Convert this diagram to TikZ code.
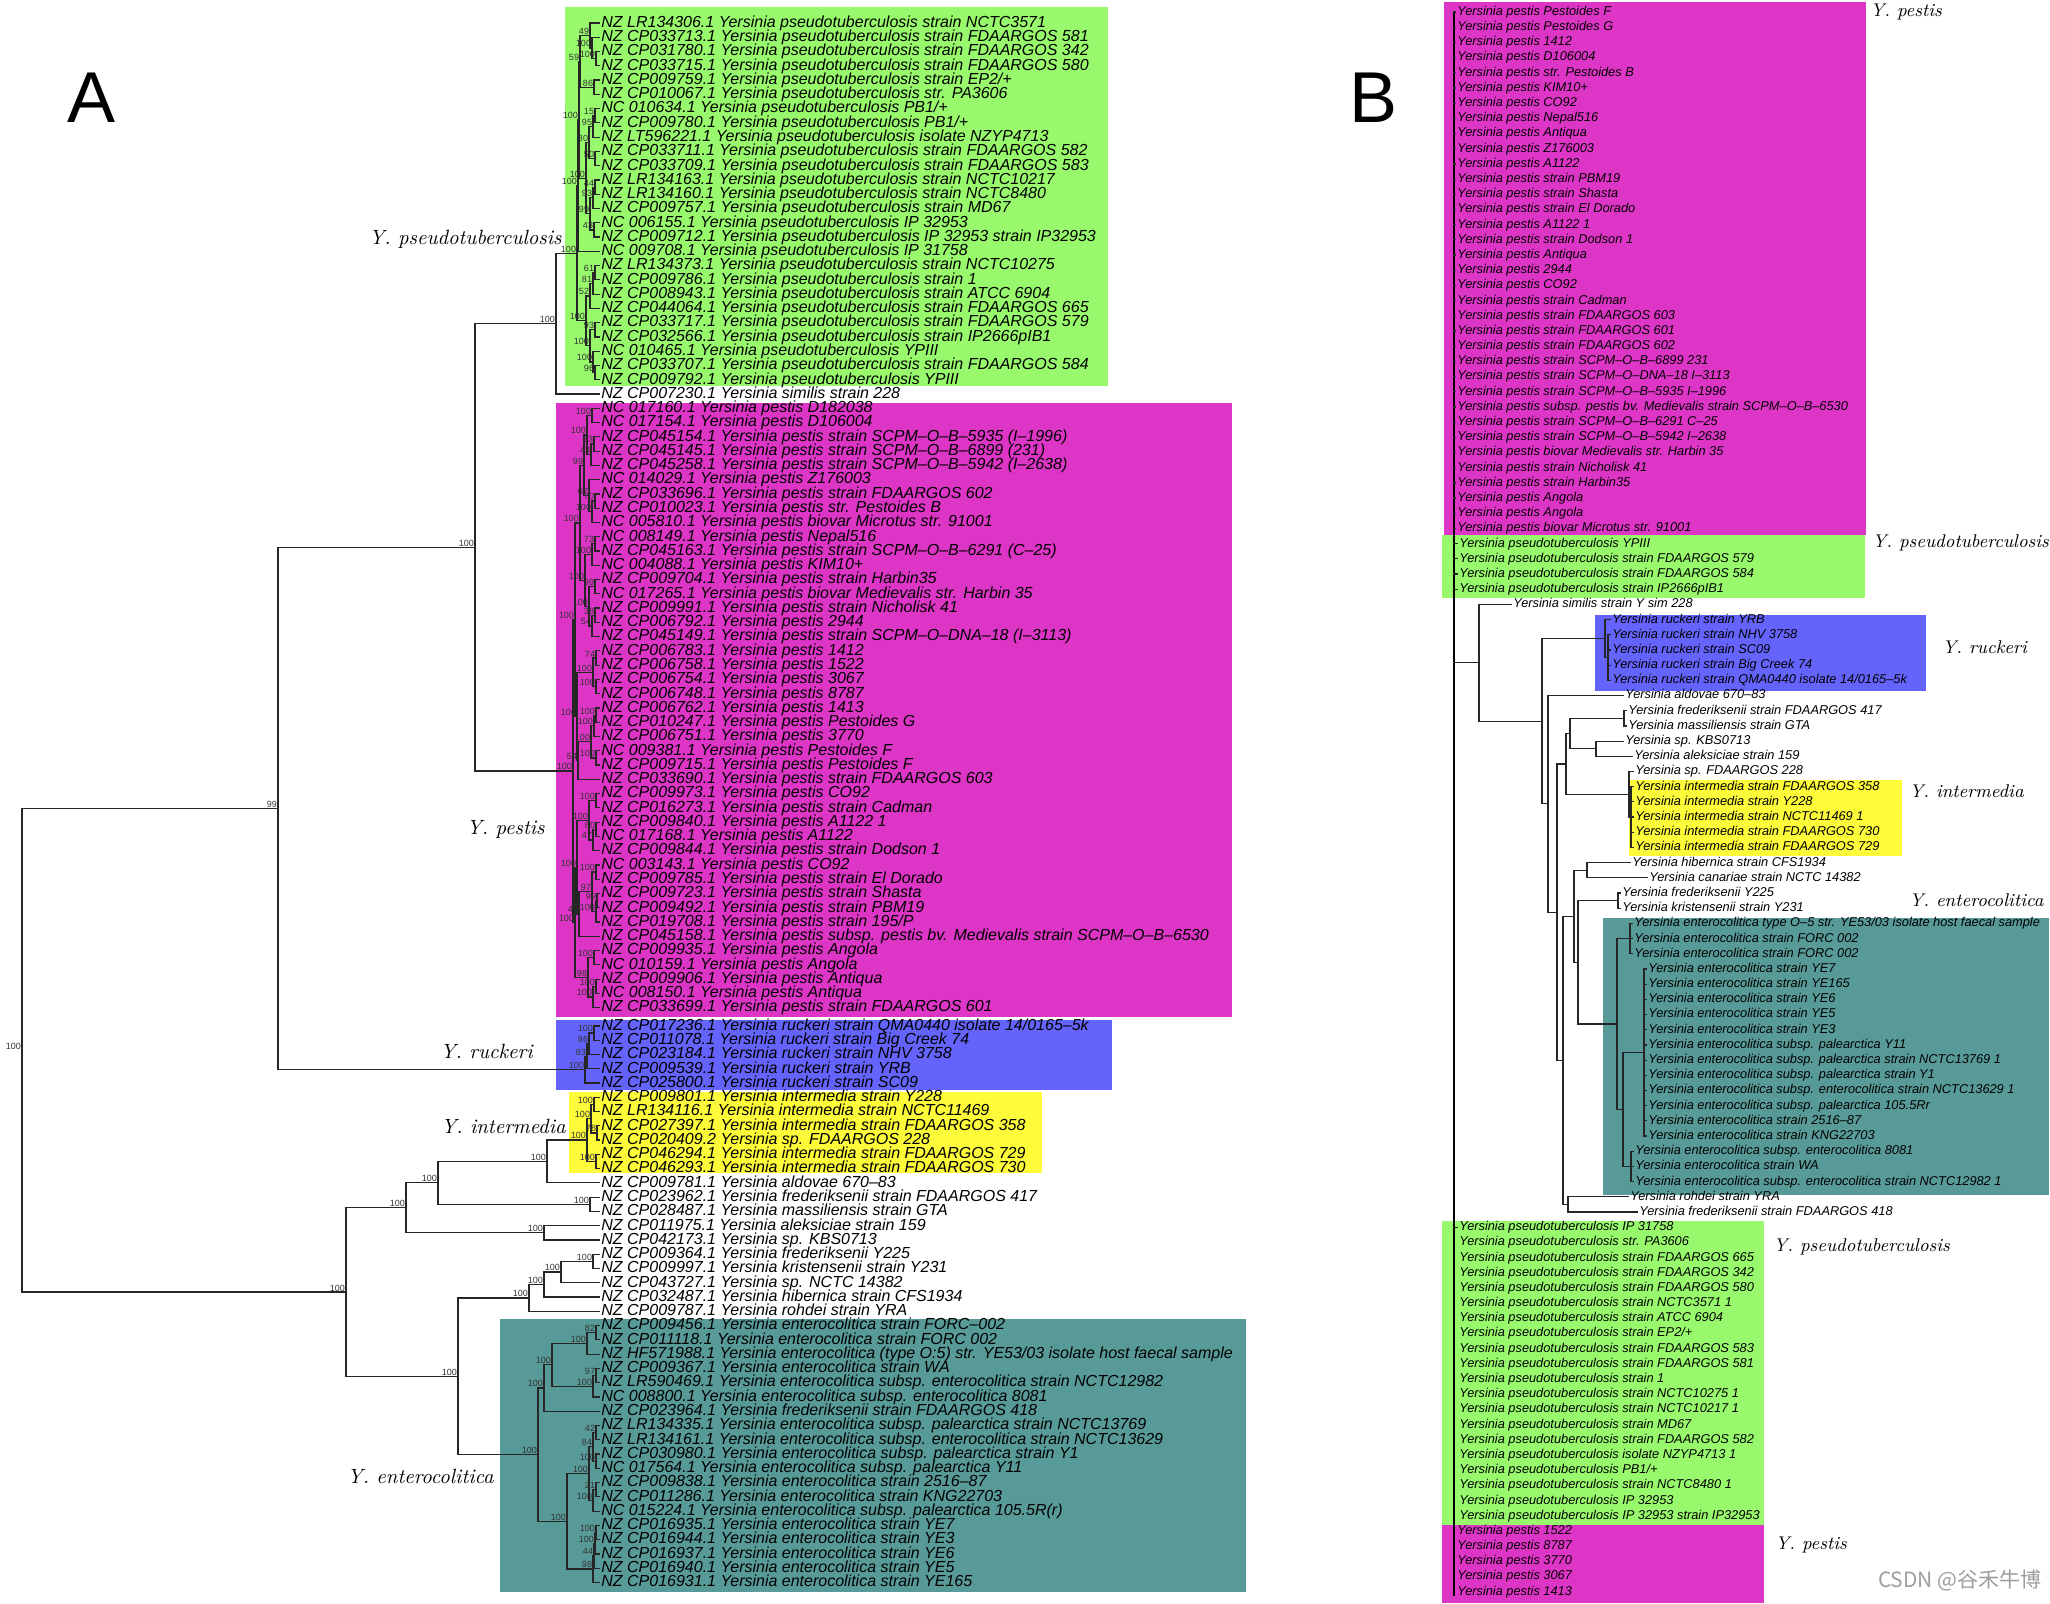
\documentclass[tikz,border=0pt]{standalone}
\usepackage{fontspec}
\newfontfamily\lsans{Liberation Sans}
\newfontfamily\cjk{Noto Sans CJK SC}
\usetikzlibrary{calc}
\definecolor{boxGreen}{HTML}{98F96C}
\definecolor{boxMagenta}{HTML}{DD35C6}
\definecolor{boxBlue}{HTML}{6464FC}
\definecolor{boxYellow}{HTML}{FDFB3A}
\definecolor{boxTeal}{HTML}{579A97}
\definecolor{supGray}{HTML}{333333}

% clade: name, x, upper child, lower child
\newcommand\cl[4]{%
  \coordinate (#1mid) at ($(#3)!0.5!(#4)$);
  \coordinate (#1) at (#2,0 |- #1mid);
  \draw[br] (#2,0 |- #3) -- (#2,0 |- #4);
  \draw[br] (#2,0 |- #3) -- (#3);
  \draw[br] (#2,0 |- #4) -- (#4);
}
\newcommand\clade[5]{\cl{#1}{#2}{#3}{#4}\node[sup] (#1lab) at (#1) {#5};}
\newcommand\kid[2]{\draw[br] (#1 |- #2) -- (#2);}
\newcommand\leafB[3]{\node[leafB] (b#1) at (#2,{12+15.19*(#1-1)}) {#3};}

\begin{document}
\begin{tikzpicture}[x=0.5pt, y=-0.5pt,
    br/.style={line width=0.6pt, black!85, line cap=rect},
    mainline/.style={line width=1.4pt, black},
    sup/.style={anchor=south east, inner sep=0.3pt, text=supGray,
        font=\lsans\fontsize{4.5}{4.5}\selectfont},
    leafA/.style={anchor=west, inner sep=1pt, text height=5.9pt, text depth=1.6pt,
        font=\lsans\itshape\fontsize{8}{8}\selectfont},
    leafB/.style={anchor=west, inner sep=1pt, text height=4.7pt, text depth=1.3pt,
        font=\lsans\itshape\fontsize{6.4}{6.4}\selectfont},
    cladeA/.style={anchor=east, inner sep=0pt, font=\itshape\fontsize{10.3}{10.3}\selectfont},
    cladeB/.style={anchor=west, inner sep=0pt, font=\itshape\fontsize{9.2}{9.2}\selectfont},
    panel/.style={inner sep=0pt, font=\lsans\fontsize{36}{36}\selectfont}
  ]
  \useasboundingbox (0,0) rectangle (2050,1603);

  % coloured boxes, panel A
  \fill[boxGreen] (565,7) rectangle (1108,386);
  \fill[boxMagenta] (556,403) rectangle (1232,1017);
  \fill[boxBlue] (556,1020) rectangle (1112,1090);
  \fill[boxYellow] (569,1092) rectangle (1042,1173);
  \fill[boxTeal] (500,1319) rectangle (1246,1592);
  % coloured boxes, panel B
  \fill[boxMagenta] (1444,2) rectangle (1866,535);
  \fill[boxGreen] (1442,535) rectangle (1865,598);
  \fill[boxBlue] (1595,615) rectangle (1926,691);
  \fill[boxYellow] (1629,780) rectangle (1902,856);
  \fill[boxTeal] (1603,918) rectangle (2049,1195);
  \fill[boxGreen] (1442,1221) rectangle (1764,1525);
  \fill[boxMagenta] (1442,1525) rectangle (1764,1603);

  \node[panel] (labA) at (92,98) {A};
  \node[panel] (labB) at (1373,98) {B};

  % ---------- panel A: leaves ----------
  \foreach \t [count=\i] in {
    NZ LR134306.1 Yersinia pseudotuberculosis strain NCTC3571,
    NZ CP033713.1 Yersinia pseudotuberculosis strain FDAARGOS 581,
    NZ CP031780.1 Yersinia pseudotuberculosis strain FDAARGOS 342,
    NZ CP033715.1 Yersinia pseudotuberculosis strain FDAARGOS 580,
    NZ CP009759.1 Yersinia pseudotuberculosis strain EP2/+,
    NZ CP010067.1 Yersinia pseudotuberculosis str. PA3606,
    NC 010634.1 Yersinia pseudotuberculosis PB1/+,
    NZ CP009780.1 Yersinia pseudotuberculosis PB1/+,
    NZ LT596221.1 Yersinia pseudotuberculosis isolate NZYP4713,
    NZ CP033711.1 Yersinia pseudotuberculosis strain FDAARGOS 582,
    NZ CP033709.1 Yersinia pseudotuberculosis strain FDAARGOS 583,
    NZ LR134163.1 Yersinia pseudotuberculosis strain NCTC10217,
    NZ LR134160.1 Yersinia pseudotuberculosis strain NCTC8480,
    NZ CP009757.1 Yersinia pseudotuberculosis strain MD67,
    NC 006155.1 Yersinia pseudotuberculosis IP 32953,
    NZ CP009712.1 Yersinia pseudotuberculosis IP 32953 strain IP32953,
    NC 009708.1 Yersinia pseudotuberculosis IP 31758,
    NZ LR134373.1 Yersinia pseudotuberculosis strain NCTC10275,
    NZ CP009786.1 Yersinia pseudotuberculosis strain 1,
    NZ CP008943.1 Yersinia pseudotuberculosis strain ATCC 6904,
    NZ CP044064.1 Yersinia pseudotuberculosis strain FDAARGOS 665,
    NZ CP033717.1 Yersinia pseudotuberculosis strain FDAARGOS 579,
    NZ CP032566.1 Yersinia pseudotuberculosis strain IP2666pIB1,
    NC 010465.1 Yersinia pseudotuberculosis YPIII,
    NZ CP033707.1 Yersinia pseudotuberculosis strain FDAARGOS 584,
    NZ CP009792.1 Yersinia pseudotuberculosis YPIII,
    NZ CP007230.1 Yersinia similis strain 228,
    NC 017160.1 Yersinia pestis D182038,
    NC 017154.1 Yersinia pestis D106004,
    NZ CP045154.1 Yersinia pestis strain SCPM–O–B–5935 (I–1996),
    NZ CP045145.1 Yersinia pestis strain SCPM–O–B–6899 (231),
    NZ CP045258.1 Yersinia pestis strain SCPM–O–B–5942 (I–2638),
    NC 014029.1 Yersinia pestis Z176003,
    NZ CP033696.1 Yersinia pestis strain FDAARGOS 602,
    NZ CP010023.1 Yersinia pestis str. Pestoides B,
    NC 005810.1 Yersinia pestis biovar Microtus str. 91001,
    NC 008149.1 Yersinia pestis Nepal516,
    NZ CP045163.1 Yersinia pestis strain SCPM–O–B–6291 (C–25),
    NC 004088.1 Yersinia pestis KIM10+,
    NZ CP009704.1 Yersinia pestis strain Harbin35,
    NC 017265.1 Yersinia pestis biovar Medievalis str. Harbin 35,
    NZ CP009991.1 Yersinia pestis strain Nicholisk 41,
    NZ CP006792.1 Yersinia pestis 2944,
    NZ CP045149.1 Yersinia pestis strain SCPM–O–DNA–18 (I–3113),
    NZ CP006783.1 Yersinia pestis 1412,
    NZ CP006758.1 Yersinia pestis 1522,
    NZ CP006754.1 Yersinia pestis 3067,
    NZ CP006748.1 Yersinia pestis 8787,
    NZ CP006762.1 Yersinia pestis 1413,
    NZ CP010247.1 Yersinia pestis Pestoides G,
    NZ CP006751.1 Yersinia pestis 3770,
    NC 009381.1 Yersinia pestis Pestoides F,
    NZ CP009715.1 Yersinia pestis Pestoides F,
    NZ CP033690.1 Yersinia pestis strain FDAARGOS 603,
    NZ CP009973.1 Yersinia pestis CO92,
    NZ CP016273.1 Yersinia pestis strain Cadman,
    NZ CP009840.1 Yersinia pestis A1122 1,
    NC 017168.1 Yersinia pestis A1122,
    NZ CP009844.1 Yersinia pestis strain Dodson 1,
    NC 003143.1 Yersinia pestis CO92,
    NZ CP009785.1 Yersinia pestis strain El Dorado,
    NZ CP009723.1 Yersinia pestis strain Shasta,
    NZ CP009492.1 Yersinia pestis strain PBM19,
    NZ CP019708.1 Yersinia pestis strain 195/P,
    NZ CP045158.1 Yersinia pestis subsp. pestis bv. Medievalis strain SCPM–O–B–6530,
    NZ CP009935.1 Yersinia pestis Angola,
    NC 010159.1 Yersinia pestis Angola,
    NZ CP009906.1 Yersinia pestis Antiqua,
    NC 008150.1 Yersinia pestis Antiqua,
    NZ CP033699.1 Yersinia pestis strain FDAARGOS 601,
    NZ CP017236.1 Yersinia ruckeri strain QMA0440 isolate 14/0165–5k,
    NZ CP011078.1 Yersinia ruckeri strain Big Creek 74,
    NZ CP023184.1 Yersinia ruckeri strain NHV 3758,
    NZ CP009539.1 Yersinia ruckeri strain YRB,
    NZ CP025800.1 Yersinia ruckeri strain SC09,
    NZ CP009801.1 Yersinia intermedia strain Y228,
    NZ LR134116.1 Yersinia intermedia strain NCTC11469,
    NZ CP027397.1 Yersinia intermedia strain FDAARGOS 358,
    NZ CP020409.2 Yersinia sp. FDAARGOS 228,
    NZ CP046294.1 Yersinia intermedia strain FDAARGOS 729,
    NZ CP046293.1 Yersinia intermedia strain FDAARGOS 730,
    NZ CP009781.1 Yersinia aldovae 670–83,
    NZ CP023962.1 Yersinia frederiksenii strain FDAARGOS 417,
    NZ CP028487.1 Yersinia massiliensis strain GTA,
    NZ CP011975.1 Yersinia aleksiciae strain 159,
    NZ CP042173.1 Yersinia sp. KBS0713,
    NZ CP009364.1 Yersinia frederiksenii Y225,
    NZ CP009997.1 Yersinia kristensenii strain Y231,
    NZ CP043727.1 Yersinia sp. NCTC 14382,
    NZ CP032487.1 Yersinia hibernica strain CFS1934,
    NZ CP009787.1 Yersinia rohdei strain YRA,
    NZ CP009456.1 Yersinia enterocolitica strain FORC–002,
    NZ CP011118.1 Yersinia enterocolitica strain FORC 002,
    NZ HF571988.1 Yersinia enterocolitica (type O:5) str. YE53/03 isolate host faecal sample,
    NZ CP009367.1 Yersinia enterocolitica strain WA,
    NZ LR590469.1 Yersinia enterocolitica subsp. enterocolitica strain NCTC12982,
    NC 008800.1 Yersinia enterocolitica subsp. enterocolitica 8081,
    NZ CP023964.1 Yersinia frederiksenii strain FDAARGOS 418,
    NZ LR134335.1 Yersinia enterocolitica subsp. palearctica strain NCTC13769,
    NZ LR134161.1 Yersinia enterocolitica subsp. enterocolitica strain NCTC13629,
    NZ CP030980.1 Yersinia enterocolitica subsp. palearctica strain Y1,
    NC 017564.1 Yersinia enterocolitica subsp. palearctica Y11,
    NZ CP009838.1 Yersinia enterocolitica strain 2516–87,
    NZ CP011286.1 Yersinia enterocolitica strain KNG22703,
    NC 015224.1 Yersinia enterocolitica subsp. palearctica 105.5R(r),
    NZ CP016935.1 Yersinia enterocolitica strain YE7,
    NZ CP016944.1 Yersinia enterocolitica strain YE3,
    NZ CP016937.1 Yersinia enterocolitica strain YE6,
    NZ CP016940.1 Yersinia enterocolitica strain YE5,
    NZ CP016931.1 Yersinia enterocolitica strain YE165} {
    \pgfmathsetmacro\yy{23+14.27*(\i-1)+4*(\i>70)}
    \node[leafA] (a\i) at (599,\yy) {\t};
  }

  % ---------- panel A: tree ----------
  % Y. pseudotuberculosis
  \clade{S1a}{596}{a3}{a4}{100}
  \clade{S1b}{592}{a2}{S1a}{100}
  \clade{S1c}{590}{a1}{S1b}{49}
  \clade{S2}{594}{a5}{a6}{86}
  \clade{S3}{580}{S1c}{S2}{59}
  \clade{S4}{595}{a7}{a8}{15}
  \clade{S5}{593}{S4}{a9}{95}
  \clade{S6}{595}{a10}{a11}{50}
  \clade{S7}{589}{S5}{S6}{80}
  \clade{S8}{595}{a12}{a13}{44}
  \clade{S9}{593}{S8}{a14}{93}
  \clade{S10}{594}{a15}{a16}{43}
  \clade{S11}{590}{S9}{S10}{99}
  \clade{S12}{586}{S7}{S11}{100}
  \clade{G1a}{579}{S3}{S12}{100}
  \clade{G1}{578}{G1a}{a17}{100}
  \clade{S13}{595}{a18}{a19}{61}
  \clade{S14}{593}{S13}{a20}{81}
  \clade{S15}{590}{S14}{a21}{52}
  \clade{S16}{595}{a22}{a23}{93}
  \clade{S17}{595}{a25}{a26}{96}
  \clade{S18}{593}{a24}{S17}{100}
  \clade{S19}{590}{S16}{S18}{100}
  \clade{G2}{586}{S15}{S19}{100}
  \clade{PS}{577}{G1}{G2}{100}
  \clade{A3}{556}{PS}{a27}{100}
  % Y. pestis
  \clade{Pa}{592}{a28}{a29}{100}
  \clade{Pb1}{594}{a30}{a31}{33}
  \clade{Pb}{591}{Pb1}{a32}{43}
  \clade{Pab}{587}{Pa}{Pb}{100}
  \clade{Pc}{595}{a34}{a35}{70}
  \clade{Pc2}{592}{Pc}{a36}{100}
  \clade{Pc3}{589}{a33}{Pc2}{67}
  \clade{Pd}{595}{a37}{a38}{73}
  \clade{Pd2}{592}{Pd}{a39}{100}
  \clade{Pe}{595}{a40}{a41}{99}
  \clade{Pf}{595}{a42}{a43}{38}
  \clade{Pf2}{592}{Pf}{a44}{54}
  \clade{Pe2}{589}{Pe}{Pf2}{100}
  \clade{Pm}{584}{Pab}{Pc3}{99}
  \clade{Pn}{585}{Pd2}{Pe2}{100}
  \clade{Po}{580}{Pm}{Pn}{100}
  \clade{Pg}{596}{a45}{a46}{74}
  \clade{Pg1}{596}{a47}{a48}{100}
  \clade{Pg2}{593}{Pg}{Pg1}{100}
  \clade{Ph}{596}{a49}{a50}{100}
  \clade{Ph2}{594}{Ph}{a51}{100}
  \clade{Pi}{596}{a52}{a53}{100}
  \clade{Pj}{591}{Ph2}{Pi}{100}
  \clade{Pk}{578}{Pj}{a54}{54}
  \clade{Pl}{577}{Pg2}{Pk}{100}
  \clade{P1}{575}{Po}{Pl}{100}
  \clade{Q1}{596}{a55}{a56}{100}
  \clade{Q2}{596}{a57}{a58}{60}
  \clade{Q3}{593}{Q2}{a59}{47}
  \clade{Q4}{589}{Q1}{Q3}{100}
  \clade{Q5}{596}{a60}{a61}{100}
  \clade{Q6}{597}{a62}{a63}{99}
  \clade{Q7}{596}{Q6}{a64}{100}
  \clade{Q8}{592}{Q5}{Q7}{97}
  \clade{Q9}{579}{Q8}{a65}{49}
  \clade{Q10}{577}{Q4}{Q9}{100}
  \clade{Q11}{594}{a66}{a67}{100}
  \clade{Q12}{596}{a68}{a69}{100}
  \clade{Q13}{593}{Q12}{a70}{100}
  \clade{Q14}{588}{Q11}{Q13}{98}
  \clade{P2}{575}{Q10}{Q14}{100}
  \clade{P}{573}{P1}{P2}{100}
  \clade{A2}{475}{A3}{P}{100}
  % Y. ruckeri
  \clade{Ru2}{594}{a71}{a72}{100}
  \clade{Ru1}{589}{Ru2}{a73}{86}
  \clade{Ru0}{587}{Ru1}{a74}{83}
  \clade{Ru}{585}{Ru0}{a75}{100}
  \clade{A1}{278}{A2}{Ru}{99}
  % Y. intermedia and relatives
  \clade{I1a}{594}{a76}{a77}{100}
  \clade{I1b}{597}{a78}{a79}{78}
  \clade{I1}{591}{I1a}{I1b}{100}
  \clade{I2}{596}{a80}{a81}{100}
  \clade{Int}{587}{I1}{I2}{100}
  \clade{B4}{547}{Int}{a82}{100}
  \clade{FG}{590}{a83}{a84}{100}
  \clade{B3}{438}{B4}{FG}{100}
  \clade{AK}{544}{a85}{a86}{100}
  \clade{B2}{406}{B3}{AK}{100}
  \clade{C4}{593}{a87}{a88}{100}
  \clade{C3}{561}{C4}{a89}{100}
  \clade{C2}{544}{C3}{a90}{100}
  \clade{C1}{529}{C2}{a91}{100}
  % Y. enterocolitica
  \clade{FF}{596}{a92}{a93}{82}
  \clade{E1a}{587}{FF}{a94}{100}
  \clade{WN}{596}{a95}{a96}{97}
  \clade{E1b}{593}{WN}{a97}{100}
  \clade{E1x}{552}{E1a}{E1b}{100}
  \clade{E1}{544}{E1x}{a98}{100}
  \clade{Ea}{596}{a99}{a100}{42}
  \clade{Eb}{596}{a101}{a102}{100}
  \clade{Ec}{593}{Ea}{Eb}{84}
  \clade{Ed}{596}{a103}{a104}{21}
  \clade{Ee}{593}{Ed}{a105}{100}
  \clade{E2a}{589}{Ec}{Ee}{100}
  \clade{Ya}{596}{a106}{a107}{100}
  \clade{Yb}{595}{Ya}{a108}{100}
  \clade{Yc}{594}{Yb}{a109}{44}
  \clade{E2b}{593}{Yc}{a110}{98}
  \clade{E2}{567}{E2a}{E2b}{100}
  \clade{E}{538}{E1}{E2}{100}
  \clade{B5}{458}{C1}{E}{100}
  \clade{B1}{346}{B2}{B5}{100}
  \clade{R0}{22}{A1}{B1}{100}

  \node[cladeA] (cPsA) at (562,239) {Y. pseudotuberculosis};
  \node[cladeA] (cPeA) at (545,829) {Y. pestis};
  \node[cladeA] (cRuA) at (533,1051) {Y. ruckeri};
  \node[cladeA] (cInA) at (566,1126) {Y. intermedia};
  \node[cladeA] (cEnA) at (494,1476) {Y. enterocolitica};

  % ---------- panel B: leaves ----------
  \foreach \t [count=\j] in {Yersinia pestis Pestoides F, Yersinia pestis Pestoides G,
    Yersinia pestis 1412, Yersinia pestis D106004, Yersinia pestis str. Pestoides B,
    Yersinia pestis KIM10+, Yersinia pestis CO92, Yersinia pestis Nepal516,
    Yersinia pestis Antiqua, Yersinia pestis Z176003, Yersinia pestis A1122,
    Yersinia pestis strain PBM19, Yersinia pestis strain Shasta,
    Yersinia pestis strain El Dorado, Yersinia pestis A1122 1,
    Yersinia pestis strain Dodson 1, Yersinia pestis Antiqua, Yersinia pestis 2944,
    Yersinia pestis CO92, Yersinia pestis strain Cadman,
    Yersinia pestis strain FDAARGOS 603, Yersinia pestis strain FDAARGOS 601,
    Yersinia pestis strain FDAARGOS 602, Yersinia pestis strain SCPM–O–B–6899 231,
    Yersinia pestis strain SCPM–O–DNA–18 I–3113, Yersinia pestis strain SCPM–O–B–5935 I–1996,
    Yersinia pestis subsp. pestis bv. Medievalis strain SCPM–O–B–6530,
    Yersinia pestis strain SCPM–O–B–6291 C–25, Yersinia pestis strain SCPM–O–B–5942 I–2638,
    Yersinia pestis biovar Medievalis str. Harbin 35, Yersinia pestis strain Nicholisk 41,
    Yersinia pestis strain Harbin35, Yersinia pestis Angola, Yersinia pestis Angola,
    Yersinia pestis biovar Microtus str. 91001}
    {\node[leafB] (b\j) at (1455,{12+15.19*(\j-1)}) {\t};}
  \foreach \t [count=\j from 36] in {Yersinia pseudotuberculosis YPIII,
    Yersinia pseudotuberculosis strain FDAARGOS 579,
    Yersinia pseudotuberculosis strain FDAARGOS 584,
    Yersinia pseudotuberculosis strain IP2666pIB1}
    {\node[leafB] (b\j) at (1457,{12+15.19*(\j-1)}) {\t};}
  \leafB{40}{1511}{Yersinia similis strain Y sim 228}
  \foreach \t [count=\j from 41] in {Yersinia ruckeri strain YRB,
    Yersinia ruckeri strain NHV 3758, Yersinia ruckeri strain SC09,
    Yersinia ruckeri strain Big Creek 74, Yersinia ruckeri strain QMA0440 isolate 14/0165–5k}
    {\node[leafB] (b\j) at (1610,{12+15.19*(\j-1)}) {\t};}
  \leafB{46}{1623}{Yersinia aldovae 670–83}
  \leafB{47}{1626}{Yersinia frederiksenii strain FDAARGOS 417}
  \leafB{48}{1626}{Yersinia massiliensis strain GTA}
  \leafB{49}{1623}{Yersinia sp. KBS0713}
  \leafB{50}{1632}{Yersinia aleksiciae strain 159}
  \leafB{51}{1633}{Yersinia sp. FDAARGOS 228}
  \foreach \t [count=\j from 52] in {Yersinia intermedia strain FDAARGOS 358,
    Yersinia intermedia strain Y228, Yersinia intermedia strain NCTC11469 1,
    Yersinia intermedia strain FDAARGOS 730, Yersinia intermedia strain FDAARGOS 729}
    {\node[leafB] (b\j) at (1633,{12+15.19*(\j-1)}) {\t};}
  \leafB{57}{1630}{Yersinia hibernica strain CFS1934}
  \leafB{58}{1647}{Yersinia canariae strain NCTC 14382}
  \leafB{59}{1620}{Yersinia frederiksenii Y225}
  \leafB{60}{1620}{Yersinia kristensenii strain Y231}
  \leafB{61}{1632}{Yersinia enterocolitica type O–5 str. YE53/03 isolate host faecal sample}
  \leafB{62}{1632}{Yersinia enterocolitica strain FORC 002}
  \leafB{63}{1632}{Yersinia enterocolitica strain FORC 002}
  \foreach \t [count=\j from 64] in {Yersinia enterocolitica strain YE7,
    Yersinia enterocolitica strain YE165, Yersinia enterocolitica strain YE6,
    Yersinia enterocolitica strain YE5, Yersinia enterocolitica strain YE3,
    Yersinia enterocolitica subsp. palearctica Y11,
    Yersinia enterocolitica subsp. palearctica strain NCTC13769 1,
    Yersinia enterocolitica subsp. palearctica strain Y1,
    Yersinia enterocolitica subsp. enterocolitica strain NCTC13629 1,
    Yersinia enterocolitica subsp. palearctica 105.5Rr,
    Yersinia enterocolitica strain 2516–87, Yersinia enterocolitica strain KNG22703}
    {\node[leafB] (b\j) at (1646,{12+15.19*(\j-1)}) {\t};}
  \leafB{76}{1633}{Yersinia enterocolitica subsp. enterocolitica 8081}
  \leafB{77}{1633}{Yersinia enterocolitica strain WA}
  \leafB{78}{1633}{Yersinia enterocolitica subsp. enterocolitica strain NCTC12982 1}
  \leafB{79}{1628}{Yersinia rohdei strain YRA}
  \leafB{80}{1637}{Yersinia frederiksenii strain FDAARGOS 418}
  \foreach \t [count=\j from 81] in {Yersinia pseudotuberculosis IP 31758,
    Yersinia pseudotuberculosis str. PA3606,
    Yersinia pseudotuberculosis strain FDAARGOS 665,
    Yersinia pseudotuberculosis strain FDAARGOS 342,
    Yersinia pseudotuberculosis strain FDAARGOS 580,
    Yersinia pseudotuberculosis strain NCTC3571 1,
    Yersinia pseudotuberculosis strain ATCC 6904,
    Yersinia pseudotuberculosis strain EP2/+,
    Yersinia pseudotuberculosis strain FDAARGOS 583,
    Yersinia pseudotuberculosis strain FDAARGOS 581,
    Yersinia pseudotuberculosis strain 1,
    Yersinia pseudotuberculosis strain NCTC10275 1,
    Yersinia pseudotuberculosis strain NCTC10217 1,
    Yersinia pseudotuberculosis strain MD67,
    Yersinia pseudotuberculosis strain FDAARGOS 582,
    Yersinia pseudotuberculosis isolate NZYP4713 1,
    Yersinia pseudotuberculosis PB1/+,
    Yersinia pseudotuberculosis strain NCTC8480 1,
    Yersinia pseudotuberculosis IP 32953,
    Yersinia pseudotuberculosis IP 32953 strain IP32953}
    {\node[leafB] (b\j) at (1457,{12+15.19*(\j-1)}) {\t};}
  \foreach \t [count=\j from 101] in {Yersinia pestis 1522, Yersinia pestis 8787,
    Yersinia pestis 3770, Yersinia pestis 3067, Yersinia pestis 1413}
    {\node[leafB] (b\j) at (1455,{12+15.19*(\j-1)}) {\t};}

  % ---------- panel B: tree ----------
  \coordinate (mainTop) at (1454,11);
  \coordinate (mainBot) at (1454,1596);
  \draw[mainline] (mainTop) -- (mainBot);
  \foreach \j in {1,...,39,81,...,105} {\draw[br] (1454,0 |- b\j) -- (b\j);}
  \cl{qR2}{1608}{b42}{b45} \kid{qR2}{b43} \kid{qR2}{b44}
  \cl{qR}{1605}{b41}{qR2}
  \cl{qN8}{1624}{b47}{b48}
  \cl{qN9}{1596}{b49}{b50}
  \cl{qN7}{1570}{qN8}{qN9}
  \cl{qYel}{1631}{b52}{b56}
  \foreach \j in {53,54,55} {\kid{qYel}{b\j}}
  \cl{qY}{1629}{b51}{qYel}
  \cl{qN5}{1566}{qN7}{qY}
  \cl{qH}{1587}{b57}{b58}
  \cl{qK}{1618}{b59}{b60}
  \cl{qF}{1630}{b61}{b63} \kid{qF}{b62}
  \cl{qYE}{1644}{b64}{b75}
  \foreach \j in {65,...,74} {\kid{qYE}{b\j}}
  \cl{qW}{1631}{b76}{b78} \kid{qW}{b77}
  \cl{qN13}{1623}{qYE}{qW}
  \cl{qT}{1617}{qF}{qN13}
  \cl{qN12}{1578}{qK}{qT}
  \cl{qN10}{1574}{qH}{qN12}
  \cl{qN11}{1568}{b79}{b80}
  \cl{qN6}{1563}{qN10}{qN11}
  \cl{qN4}{1557}{qN5}{qN6}
  \cl{qN3}{1548}{b46}{qN4}
  \cl{qN2}{1542}{qR}{qN3}
  \cl{qN1}{1479}{b40}{qN2}
  \draw[br] (1454,0 |- qN1) -- (qN1);

  \node[cladeB] (cPeB) at (1870,12) {Y. pestis};
  \node[cladeB] (cPsB) at (1872,543) {Y. pseudotuberculosis};
  \node[cladeB] (cRuB) at (1942,647) {Y. ruckeri};
  \node[cladeB] (cInB) at (1909,791) {Y. intermedia};
  \node[cladeB] (cEnB) at (1909,900) {Y. enterocolitica};
  \node[cladeB] (cPsB2) at (1773,1247) {Y. pseudotuberculosis};
  \node[cladeB] (cPeB2) at (1775,1545) {Y. pestis};

  \node[anchor=east, inner sep=0pt, text=black!38, font=\cjk\fontsize{10.5}{10.5}\selectfont]
    (mark) at (2042,1580) {CSDN @谷禾牛博};
\end{tikzpicture}
\end{document}
